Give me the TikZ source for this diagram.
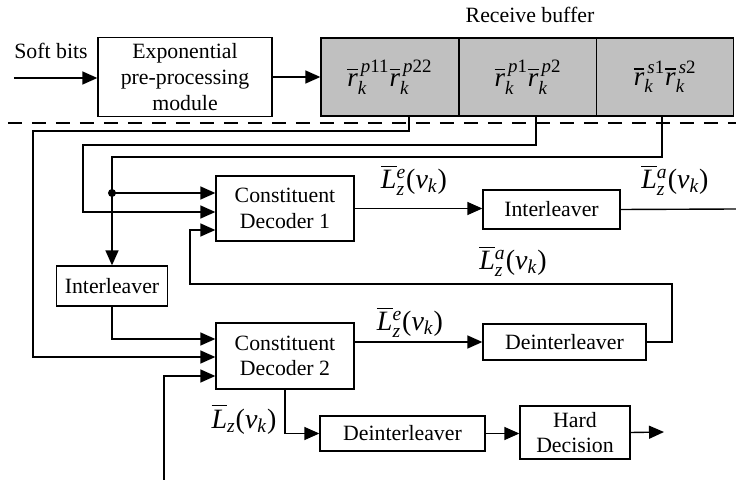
\documentclass[tikz,border=0pt]{standalone}
\usepackage{amsmath}
\usepackage{fontspec}
\setmainfont{Liberation Serif}
\usetikzlibrary{arrows.meta}
\definecolor{buffgray}{RGB}{192,192,192}
\newcommand{\lblfont}{\fontsize{10.9}{12.8}\selectfont}
\newcommand{\mathlbl}{\fontsize{14}{16}\selectfont}
\newcommand{\cellfont}{\fontsize{13.5}{16}\selectfont}
\begin{document}
\begin{tikzpicture}[x=0.5pt,y=-0.5pt,
  box/.style={draw, line width=0.65pt, inner sep=0pt, align=center, font=\lblfont},
  cell/.style={draw, line width=0.65pt, fill=buffgray, inner sep=0pt, minimum height=39pt, font=\cellfont},
  arr/.style={-{Triangle[length=7.5pt,width=6.5pt]}, line width=0.7pt},
  ln/.style={line width=0.7pt},
  lbl/.style={inner sep=0pt, font=\mathlbl},
  txt/.style={inner sep=0pt, font=\lblfont}]
\useasboundingbox (0,0) rectangle (736,481);

% top row
\node[txt] (soft) at (51,51) {Soft bits};
\node[box, minimum width=87pt, minimum height=39.5pt] (exp) at (185,77) {Exponential\\pre-processing\\module};
\node[cell, minimum width=69pt] (cell1) at (390,77) {$\overline{\textit{r}}_{\textit{k}}^{\,\textit{p}\textup{11}}\overline{\textit{r}}_{\textit{k}}^{\,\textit{p}\textup{22}}$};
\node[cell, minimum width=69pt] (cell2) at (528,77) {$\overline{\textit{r}}_{\textit{k}}^{\,\textit{p}\textup{1}}\overline{\textit{r}}_{\textit{k}}^{\,\textit{p}\textup{2}}$};
\node[cell, minimum width=68.5pt] (cell3) at (665.25,77) {$\overline{\textit{r}}_{\textit{k}}^{\,\textit{s}\textup{1}}\overline{\textit{r}}_{\textit{k}}^{\,\textit{s}\textup{2}}$};
\node[txt] (rb) at (530,15) {Receive buffer};

\coordinate (sin) at (14,78);
\draw[arr] (sin) -- (exp.west |- sin);
\draw[arr] (exp.east) -- (cell1.west);

\draw[dash pattern=on 7pt off 5pt, line width=0.6pt] (8,123) -- (736,123);

% decoders and blocks
\node[box, minimum width=69pt, minimum height=32.5pt] (dec1) at (285,208.5) {Constituent\\Decoder 1};
\node[box, minimum width=69pt, minimum height=33pt] (dec2) at (285,356) {Constituent\\Decoder 2};
\node[box, minimum width=68.5pt, minimum height=19.5pt] (intl2) at (551.5,209.5) {Interleaver};
\node[box, minimum width=55.5pt, minimum height=20pt] (intl1) at (112,286) {Interleaver};
\node[box, minimum width=81.5pt, minimum height=18pt] (deint1) at (564.5,342) {Deinterleaver};
\node[box, minimum width=82.5pt, minimum height=17.5pt] (deint2) at (402.5,433.5) {Deinterleaver};
\node[box, minimum width=55pt, minimum height=26.5pt] (hard) at (575,432.5) {Hard\\Decision};

% buffer feeds
\draw[arr] (cell1.south -| 409,0) -- (409,131) -- (33,131) -- (33,357) -- (dec2.west |- 0,357);
\draw[arr] (cell2.south -| 536,0) -- (536,145) -- (83,145) -- (83,212) -- (dec1.west |- 0,212);
\draw[arr] (cell3.south -| 662,0) -- (662,157) -- (112,157) -- (intl1.north);
\coordinate (jn) at (112,193);
\fill (jn) circle (2pt);
\draw[arr] (jn) -- (dec1.west |- jn);
\draw[arr] (intl1.south) -- (112,339) -- (dec2.west |- 0,339);

% decoder 1 output
\draw[arr] (dec1.east) -- (intl2.west |- dec1.east);
\coordinate (aout) at (736,209);
\draw[ln] (intl2.east) -- (aout);
\node[lbl] (le1) at (414,180) {$\overline{\textit{L}}{}^{\textit{e}}_{\textit{z}}$(\textit{v}$_{\textit{k}}$)};
\node[lbl] (la1) at (675,180) {$\overline{\textit{L}}{}^{\textit{a}}_{\textit{z}}$(\textit{v}$_{\textit{k}}$)};

% decoder 2 output and feedback
\draw[arr] (dec2.east |- deint1) -- (deint1.west);
\node[lbl] (le2) at (410,322) {$\overline{\textit{L}}{}^{\textit{e}}_{\textit{z}}$(\textit{v}$_{\textit{k}}$)};
\draw[arr] (deint1.east) -- (672,342) -- (672,284) -- (190,284) -- (190,230) -- (dec1.west |- 0,230);
\node[lbl] (la2) at (513,261) {$\overline{\textit{L}}{}^{\textit{a}}_{\textit{z}}$(\textit{v}$_{\textit{k}}$)};

% bottom input
\coordinate (bin) at (164,480);
\draw[arr] (bin) -- (164,376) -- (dec2.west |- 0,376);

% final output
\draw[arr] (dec2.south) |- (deint2.west);
\node[lbl] (lz) at (244,419) {$\overline{\textit{L}}_{\textit{z}}$(\textit{v}$_{\textit{k}}$)};
\draw[arr] (deint2.east) -- (hard.west |- deint2.east);
\coordinate (out) at (664,432);
\draw[arr] (hard.east) -- (out);
\end{tikzpicture}
\end{document}
